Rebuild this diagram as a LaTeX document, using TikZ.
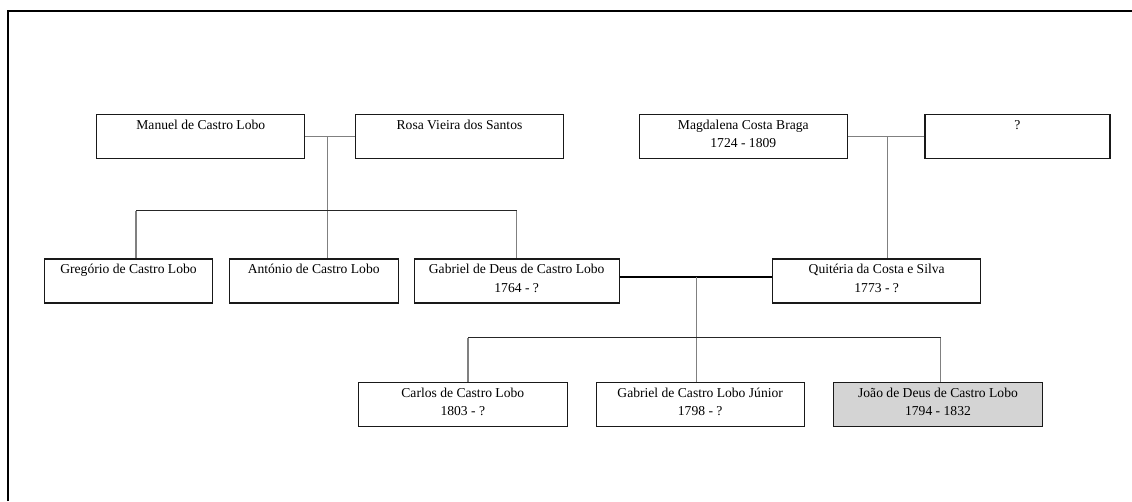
\documentclass[tikz,border=0pt]{standalone}
\usepackage{fontspec}
\setmainfont{Liberation Serif}
\usetikzlibrary{calc}
\begin{document}
\begin{tikzpicture}[
    x=0.75pt, y=-0.75pt,
    font=\fontsize{10.2}{13.8}\selectfont,
    pessoa/.style={draw=black!90, line width=0.9pt, fill=white, minimum width=#1,
      minimum height=33pt, inner sep=0pt, align=center,
      execute at begin node=\rule{0pt}{12.7pt}, execute at end node=\strut},
    pessoa/.default=156pt,
    destaque/.style={fill=black!17},
    filiacao/.style={black!50, line width=0.9pt},
    irmaos/.style={black!85, line width=0.75pt},
    casamento/.style={black, line width=1.5pt}
  ]
  \useasboundingbox (0,0) rectangle (1132,501);
  % --- moldura: so as arestas de cima e da esquerda ---
  \draw[line width=1.5pt] (7.7,501) -- (7.7,11) -- (1132,11);

  % --- avos ---
  \node[pessoa] (manuel) at (200.8,136.5) {Manuel de Castro Lobo\\};
  \node[pessoa] (rosa) at (459.5,136.5) {Rosa Vieira dos Santos\\};
  \node[pessoa] (magdalena) at (743.3,136.5) {Magdalena Costa Braga\\1724 - 1809};
  \node[pessoa=138.75pt] (incognito) at (1017.5,136.5) {?\\};

  % --- pais e tios ---
  \node[pessoa=126pt] (gregorio) at (128.5,281) {Gregório de Castro Lobo\\};
  \node[pessoa=126.75pt] (antonio) at (313.7,281) {António de Castro Lobo\\};
  \node[pessoa=153.75pt] (gabriel) at (516.7,281) {Gabriel de Deus de Castro Lobo\\1764 - ?};
  \node[pessoa] (quiteria) at (876.7,281) {Quitéria da Costa e Silva\\1773 - ?};

  % --- filhos ---
  \node[pessoa=156.75pt] (carlos) at (462.8,404.7) {Carlos de Castro Lobo\\1803 - ?};
  \node[pessoa] (gabrieljr) at (700.2,404.7) {Gabriel de Castro Lobo Júnior\\1798 - ?};
  \node[pessoa=156.75pt, destaque] (joao) at (938,404.7) {João de Deus de Castro Lobo\\1794 - 1832};

  % --- casal Manuel / Rosa ---
  \draw[filiacao] (manuel.east) -- (rosa.west);
  \coordinate (uniao1) at ($(manuel.east)!0.44!(rosa.west)$);
  \coordinate (barra1) at (0,210.5);
  \coordinate (gregtopo) at ($(gregorio.north)+(7.5,0)$);
  \draw[filiacao] (uniao1) -- (uniao1 |- antonio.north);
  \draw[irmaos] (gregtopo |- barra1) -- (gabriel.north |- barra1);
  \foreach \alvo in {gregtopo, gabriel.north}
    \draw[filiacao] (\alvo |- barra1) -- (\alvo);

  % --- casal Magdalena / ? ---
  \draw[filiacao] (magdalena.east) -- (incognito.west);
  \coordinate (uniao2) at ($(magdalena.east)!0.515!(incognito.west)$);
  \draw[filiacao] (uniao2) -- (uniao2 |- quiteria.north);

  % --- casal Gabriel / Quiteria ---
  \coordinate (gabrielcasa) at ($(gabriel.east)+(0,-3.7)$);
  \draw[casamento] (gabrielcasa) -- (gabrielcasa -| quiteria.west);
  \coordinate (uniao3) at ($(gabrielcasa)!0.506!(gabrielcasa -| quiteria.west)$);
  \coordinate (barra2) at (0,337.5);
  \coordinate (carlostopo) at ($(carlos.north)+(5.2,0)$);
  \coordinate (joaotopo) at ($(joao.north)+(2.7,0)$);
  \draw[filiacao] (uniao3) -- (uniao3 |- gabrieljr.north);
  \draw[irmaos] (carlostopo |- barra2) -- (joaotopo |- barra2);
  \foreach \alvo in {carlostopo, joaotopo}
    \draw[filiacao] (\alvo |- barra2) -- (\alvo);
\end{tikzpicture}
\end{document}
